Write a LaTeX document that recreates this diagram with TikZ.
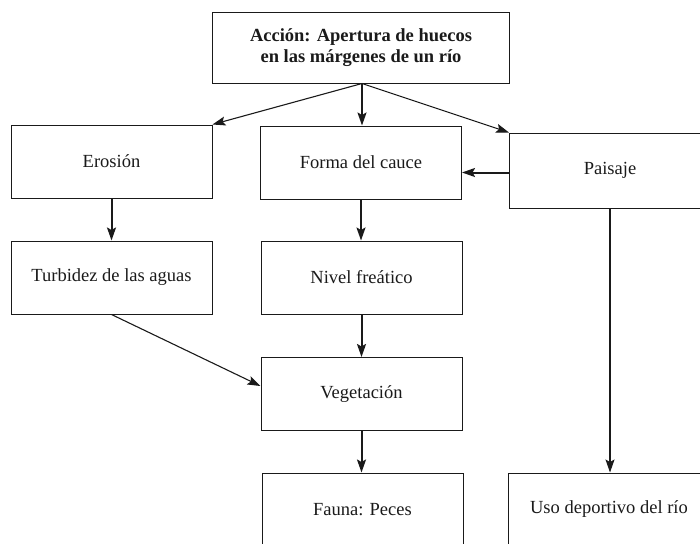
\documentclass[tikz,border=0pt]{standalone}
\usepackage{fontspec}
\setmainfont{Liberation Serif}
\usetikzlibrary{arrows.meta}
\definecolor{ink}{HTML}{1A1A1A}
\tikzset{
  box/.style={draw=ink, line width=1pt, rectangle, minimum width=201pt, minimum height=73pt,
    inner sep=0pt, align=center, text=ink, font=\fontsize{18.5}{21}\selectfont},
  heavy/.style={draw=ink, line width=2pt, -{Stealth[length=13pt,width=9pt,inset=2.5pt]}},
  light/.style={draw=ink, line width=1.1pt, -{Stealth[length=13pt,width=9pt,inset=2.5pt]}}
}
\begin{document}
\begin{tikzpicture}[x=1pt,y=-1pt]
\useasboundingbox (0,0) rectangle (700,543);
\clip (0,0) rectangle (700,543);
\node[box, minimum width=297pt, minimum height=70pt, font=\bfseries\fontsize{18.5}{21}\selectfont] (top) at (361,48) {Acción: Apertura de huecos\\en las márgenes de un río};
\node[box] (eros) at (111.5,161.5) {Erosión};
\node[box] (forma) at (361,162.5) {Forma del cauce};
\node[box, minimum height=75pt] (pais) at (610,170.5) {Paisaje};
\node[box] (turb) at (111.5,277.5) {Turbidez de las aguas};
\node[box] (nivel) at (361.5,277.5) {Nivel freático};
\node[box] (veg) at (361.5,394) {Vegetación};
\node[box] (fauna) at (362.5,509.5) {Fauna: Peces};
\node[box] (uso) at (609,509.5) {Uso deportivo del río};
\coordinate (apex) at ([xshift=1pt]top.south);
\draw[light] (apex) -- (eros.north east);
\draw[heavy] (apex) -- (apex |- forma.north);
\draw[light] (apex) -- (pais.north west);
\draw[heavy] ([yshift=-2pt]pais.west) -- ([yshift=-2pt]pais.west -| forma.east);
\draw[heavy] (eros.south) -- (turb.north);
\draw[heavy] (forma.south) -- (forma.south |- nivel.north);
\draw[light] (turb.south) -- ([yshift=8pt]veg.west);
\draw[heavy] (nivel.south) -- (veg.north);
\draw[heavy] (veg.south) -- (veg.south |- fauna.north);
\draw[light] (pais.south) -- (pais.south |- uso.north);
\end{tikzpicture}
\end{document}
